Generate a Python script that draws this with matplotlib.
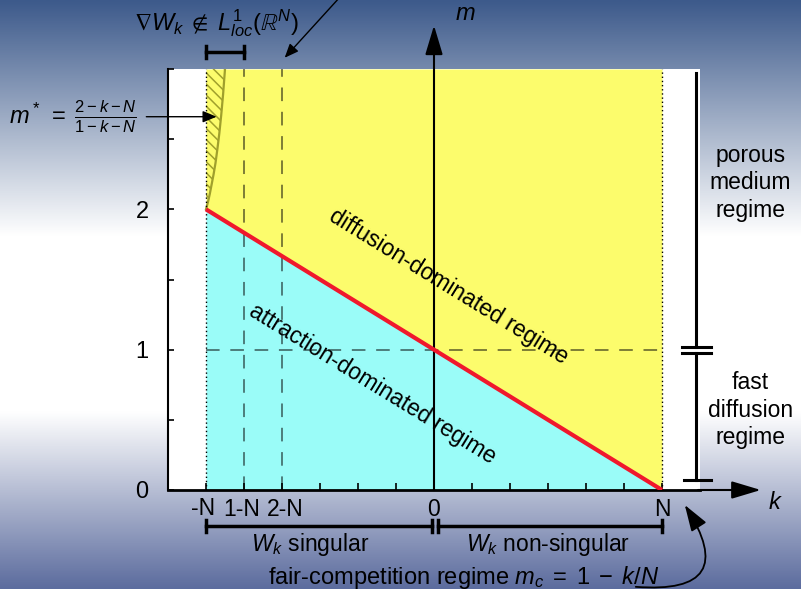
import numpy as np
import matplotlib
matplotlib.use('Agg')
import matplotlib.pyplot as plt
from matplotlib.colors import LinearSegmentedColormap
from matplotlib.transforms import ScaledTranslation

plt.rcParams['font.family'] = ['Liberation Sans', 'DejaVu Sans']
plt.rcParams['mathtext.fontset'] = 'custom'
plt.rcParams['mathtext.rm'] = 'Liberation Sans'
plt.rcParams['mathtext.it'] = 'Liberation Sans:italic'
plt.rcParams['mathtext.sf'] = 'Liberation Sans'
plt.rcParams['mathtext.fallback'] = 'stixsans'
plt.rcParams['hatch.linewidth'] = 1.1

# Data
N = 6
k_edges = [-N, N]
m_crit = [2, 0]                      # m_c = 1 - k/N at k = -N and k = N
k_star = [-6.0, -5.95, -5.9, -5.85, -5.8, -5.75, -5.7, -5.65, -5.6, -5.55, -5.5]
m_star = [2.0, 2.05, 2.11, 2.18, 2.25, 2.33, 2.43, 2.54, 2.67, 2.82, 3.0]
k_dash = [1 - N, 2 - N]
m_dash = 1
m_top = 3
xtick_pos = [-N, 1 - N, 2 - N, 0, N]
xtick_labels = ['-N', '1-N', '2-N', '0', 'N']
xtick_minor = list(range(-N, N + 1))
ytick_pos = [0, 1, 2]
ytick_labels = ['0', '1', '2']
ytick_minor = [0.5, 1.5, 2.5, 3]

yellow = '#fcfc6c'
cyan = '#9afcf8'
red = '#f0182c'
olive = '#a0a02c'

fig = plt.figure(figsize=(8.01, 5.89), dpi=100)

# Background gradient
bg_cmap = LinearSegmentedColormap.from_list(
    'bg', [(0, '#3d5a8b'), (0.40, '#ffffff'), (0.70, '#ffffff'), (1, '#5c6c9e')])
bg = fig.add_axes([0, 0, 1, 1], zorder=-1)
bg.imshow(np.linspace(0, 1, 256)[:, None], cmap=bg_cmap, aspect='auto', extent=[0, 1, 0, 1])
bg.axis('off')

ax = fig.add_axes([168 / 801, 1 - 490 / 589, 532 / 801, 421 / 589])
ax.set_xlim(-7, 7)
ax.set_ylim(0, m_top)
ax.set_facecolor('white')

# Regions
ax.fill_between(k_edges, m_crit, m_top, color=yellow, lw=0)
ax.fill_between(k_edges, 0, m_crit, color=cyan, lw=0)
ax.fill_betweenx(m_star, -N, k_star, facecolor='none', edgecolor=olive, hatch='\\\\\\', lw=0)
ax.plot(k_star, m_star, color=olive, lw=1.6)

# Guide lines
for kd in k_dash:
    ax.vlines(kd, 0, m_top, colors='k', alpha=0.5, lw=1.4, linestyles=(0, (7, 5.5)))
ax.hlines(m_dash, -N, N, colors='k', alpha=0.5, lw=1.4, linestyles=(0, (7, 5.5)))
ax.vlines(k_edges, 0, m_top, colors='k', lw=1, linestyles=(0, (1, 2)))
ax.plot(k_edges, m_crit, color=red, lw=3, zorder=5, solid_capstyle='butt')

# Axes arrows
arrow = dict(arrowstyle='-|>,head_length=0.9,head_width=0.27', color='k', lw=1.5,
             mutation_scale=20, shrinkA=0, shrinkB=0)
ax.annotate('', xy=(0, 3.31), xytext=(0, 0), arrowprops=arrow, annotation_clip=False)
ax.annotate('', xy=(8.6, 0), xytext=(6.95, 0), arrowprops=arrow, annotation_clip=False)
ax.text(0.55, 3.39, '$m$', fontsize=17, va='center')
ax.text(8.98, -0.09, '$k$', fontsize=17, va='center', ha='center')

# Spines and ticks
for side in ['top', 'right']:
    ax.spines[side].set_visible(False)
ax.spines['left'].set_linewidth(1.5)
ax.spines['bottom'].set_linewidth(2)
ax.set_xticks(xtick_pos, xtick_labels)
ax.set_xticks(xtick_minor, minor=True)
ax.set_yticks(ytick_pos, ytick_labels)
ax.set_yticks(ytick_minor, minor=True)
ax.tick_params(axis='both', which='both', direction='in', width=1.2)
ax.tick_params(axis='x', which='both', length=5, pad=6, labelsize=16.5)
ax.tick_params(axis='y', which='both', length=4.5, pad=14, labelsize=17)

# nudge the crowded labels apart a little
shifts = {'-N': (-3, 1.5), '1-N': (-2, 0), '2-N': (3, 0)}
for lab in ax.get_xticklabels():
    dx, dy = shifts.get(lab.get_text(), (0, 0))
    lab.set_transform(lab.get_transform() + ScaledTranslation(dx / 100, dy / 100, fig.dpi_scale_trans))

# Region labels along the critical line
p0 = ax.transData.transform((k_edges[0], m_crit[0]))
p1 = ax.transData.transform((k_edges[1], m_crit[1]))
angle = np.degrees(np.arctan2(p1[1] - p0[1], p1[0] - p0[0]))
ax.text(0.39, 1.45, 'diffusion-dominated regime', fontsize=16.5, rotation=angle,
        ha='center', va='center', rotation_mode='anchor')
ax.text(-1.62, 0.755, 'attraction-dominated regime', fontsize=16.5, rotation=angle,
        ha='center', va='center', rotation_mode='anchor')

# Top annotations
ax.text(-5.73, 3.33, r'$\nabla W_k\;\notin\;L^1_{loc}(\mathbb{R}^N)$', fontsize=17,
        ha='center', va='center', clip_on=False)
ax.plot([-N, 1 - N], [3.12, 3.12], color='k', lw=2.5, clip_on=False)
for kk in [-N, 1 - N]:
    ax.plot([kk, kk], [3.08, 3.165], color='k', lw=2.5, clip_on=False)
thin = dict(arrowstyle='-|>,head_length=0.6,head_width=0.25', color='k', lw=1,
            mutation_scale=14, shrinkA=0, shrinkB=0)
ax.annotate('', xy=(-3.93, 3.08), xytext=(-2.45, 3.52), arrowprops=thin, annotation_clip=False)
ax.text(-7.83, 2.66, r'$m^*\;=\;\frac{2-k-N}{1-k-N}$', fontsize=17, ha='right', va='center')
ax.annotate('', xy=(-5.72, 2.66), xytext=(-7.57, 2.66), arrowprops=thin, annotation_clip=False)

# Right bracket (porous medium / fast diffusion)
ax.plot([6.9, 6.9], [1.02, 2.97], color='k', lw=2.2, clip_on=False)
ax.plot([6.9, 6.9], [0.07, 0.975], color='k', lw=2.2, clip_on=False)
for mm in [1.02, 0.975]:
    ax.plot([6.52, 7.28], [mm, mm], color='k', lw=2.2, clip_on=False)
ax.plot([6.57, 7.28], [0.07, 0.07], color='k', lw=2.2, clip_on=False)
ax.text(8.32, 2.19, 'porous\nmedium\nregime', fontsize=16.5, ha='center', va='center',
        linespacing=1.25)
ax.text(8.32, 0.57, 'fast\ndiffusion\nregime', fontsize=16.5, ha='center', va='center',
        linespacing=1.25)

# Bottom bracket (W_k singular / non-singular)
mb = -0.257
ax.plot([-N, -0.04], [mb, mb], color='k', lw=2.5, clip_on=False)
ax.plot([0.1, N], [mb, mb], color='k', lw=2.5, clip_on=False)
for kk in [-N, -0.04, 0.1, N]:
    ax.plot([kk, kk], [mb + 0.045, mb - 0.045], color='k', lw=2.5, clip_on=False)
ax.text(-3.25, -0.39, '$W_k$ singular', fontsize=16.5, ha='center', va='center')
ax.text(3.0, -0.39, '$W_k$ non-singular', fontsize=16.5, ha='center', va='center')
ax.text(0.79, -0.62, r'fair-competition regime $m_c\;=\;1\;-\;k/N$', fontsize=17,
        ha='center', va='center')
curved = dict(arrowstyle='-|>,head_length=0.9,head_width=0.3', color='k', lw=1.3,
              mutation_scale=18, shrinkA=0, shrinkB=0, connectionstyle='arc3,rad=1.0')
ax.annotate('', xy=(6.6, -0.107), xytext=(5.31, -0.69), arrowprops=curved,
            annotation_clip=False)

plt.savefig('out.png', dpi=100)
